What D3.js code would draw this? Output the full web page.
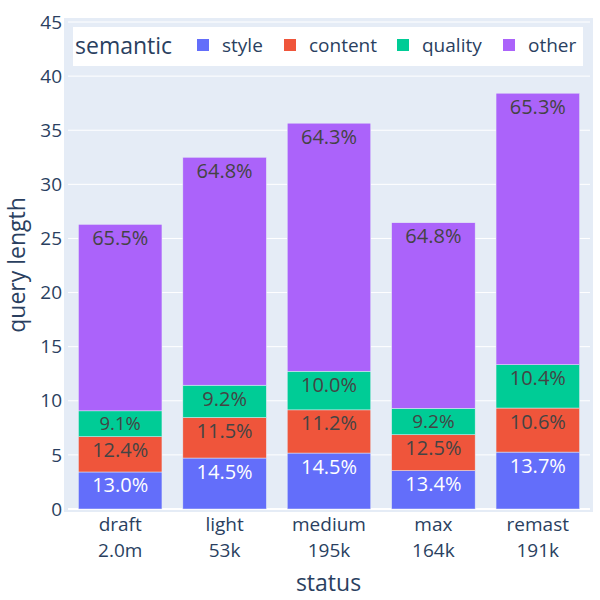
<!DOCTYPE html>
<html>
<head>
<meta charset="utf-8">
<script src="https://cdn.jsdelivr.net/npm/d3@7"></script>
<style>
  html, body { margin: 0; padding: 0; background: #fff; }
  svg { display: block; }
</style>
</head>
<body>
<svg id="chart" width="600" height="600"></svg>
<script>
const categories = ["draft", "light", "medium", "max", "remast"];
const counts = ["2.0m", "53k", "195k", "164k", "191k"];
const seriesNames = ["style", "content", "quality", "other"];
const seriesColors = ["#636EFA", "#EF553B", "#00CC96", "#AB63FA"];
const style = [3.42, 4.71, 5.17, 3.55, 5.26];
const content = [3.26, 3.74, 3.99, 3.31, 4.07];
const quality = [2.39, 2.99, 3.57, 2.44, 4.00];
const other = [17.23, 21.06, 22.92, 17.15, 25.09];
const yTicks = [0, 5, 10, 15, 20, 25, 30, 35, 40, 45];

const FONT = '"Open Sans", verdana, arial, sans-serif';
const TXT = "#2a3f5f";
const svg = d3.select("#chart");

const table = categories.map((c, i) => ({
  cat: c, count: counts[i],
  style: style[i], content: content[i], quality: quality[i], other: other[i]
}));
const stacked = d3.stack().keys(seriesNames)(table);

const bg = {x0: 64, x1: 593, y0: 18, y1: 512};
const x = d3.scaleBand().domain(categories).range([68, 590]).paddingInner(0.2).paddingOuter(0.1);
const y = d3.scaleLinear().domain([0, 45]).range([509, 22]);

svg.append("rect").attr("x", bg.x0).attr("y", bg.y0)
  .attr("width", bg.x1 - bg.x0).attr("height", bg.y1 - bg.y0).attr("fill", "#E5ECF6");

// gridlines
svg.append("g").selectAll("line").data(yTicks).join("line")
  .attr("x1", 68).attr("x2", 590)
  .attr("y1", d => y(d)).attr("y2", d => y(d))
  .attr("stroke", "#fff").attr("stroke-width", d => d === 0 ? 2 : 1);

// y tick labels
svg.append("g").selectAll("text").data(yTicks).join("text")
  .attr("x", 62).attr("y", d => y(d)).attr("dy", "0.35em")
  .attr("text-anchor", "end").attr("font-family", FONT).attr("font-size", 19)
  .attr("fill", TXT).text(d => d);

// bars
const layers = svg.append("g").selectAll("g").data(stacked).join("g")
  .attr("fill", (d, i) => seriesColors[i]);
layers.selectAll("rect").data(d => d).join("rect")
  .attr("x", d => x(d.data.cat)).attr("width", x.bandwidth())
  .attr("y", d => y(d[1])).attr("height", d => y(d[0]) - y(d[1]))
  .attr("stroke", "#E5ECF6").attr("stroke-width", 0.5);

// bar labels
stacked.forEach((layer, si) => {
  svg.append("g").selectAll("text").data(layer).join("text")
    .attr("font-family", FONT)
    .attr("text-anchor", "middle")
    .attr("fill", si === 0 ? "#fff" : "#444")
    .each(function(d) {
      const top = y(d[1]), h = y(d[0]) - y(d[1]);
      const s = Math.min(1, (h - 6) / 21.5);
      const total = d.data.style + d.data.content + d.data.quality + d.data.other;
      d3.select(this)
        .attr("x", x(d.data.cat) + x.bandwidth() / 2)
        .attr("y", top + 3 + 17.5 * s)
        .attr("font-size", 20 * s)
        .text((100 * (d[1] - d[0]) / total).toFixed(1) + "%");
    });
});

// x tick labels (two lines)
const xg = svg.append("g").attr("font-family", FONT).attr("font-size", 19)
  .attr("fill", TXT).attr("text-anchor", "middle");
xg.selectAll("text.cat").data(table).join("text").attr("class", "cat")
  .attr("x", d => x(d.cat) + x.bandwidth() / 2).attr("y", 531).text(d => d.cat);
xg.selectAll("text.cnt").data(table).join("text").attr("class", "cnt")
  .attr("x", d => x(d.cat) + x.bandwidth() / 2).attr("y", 557).text(d => d.count);

// axis titles
svg.append("text").attr("x", (bg.x0 + bg.x1) / 2).attr("y", 591)
  .attr("text-anchor", "middle").attr("font-family", FONT).attr("font-size", 23)
  .attr("fill", TXT).text("status");
svg.append("text").attr("transform", `translate(25,${(bg.y0 + bg.y1) / 2}) rotate(-90)`)
  .attr("text-anchor", "middle").attr("font-family", FONT).attr("font-size", 23)
  .attr("fill", TXT).text("query length");

// legend
const lg = svg.append("g");
lg.append("rect").attr("x", 73).attr("y", 27).attr("width", 510).attr("height", 39).attr("fill", "#fff");
lg.append("text").attr("x", 75).attr("y", 54).attr("font-family", FONT).attr("font-size", 23)
  .attr("fill", TXT).text("semantic");
const itemX = [197, 284, 397, 503];
seriesNames.forEach((n, i) => {
  lg.append("rect").attr("x", itemX[i]).attr("y", 39).attr("width", 12).attr("height", 12)
    .attr("fill", seriesColors[i]);
  lg.append("text").attr("x", itemX[i] + 25).attr("y", 52).attr("font-family", FONT)
    .attr("font-size", 19).attr("fill", TXT).text(n);
});
</script>
</body>
</html>
